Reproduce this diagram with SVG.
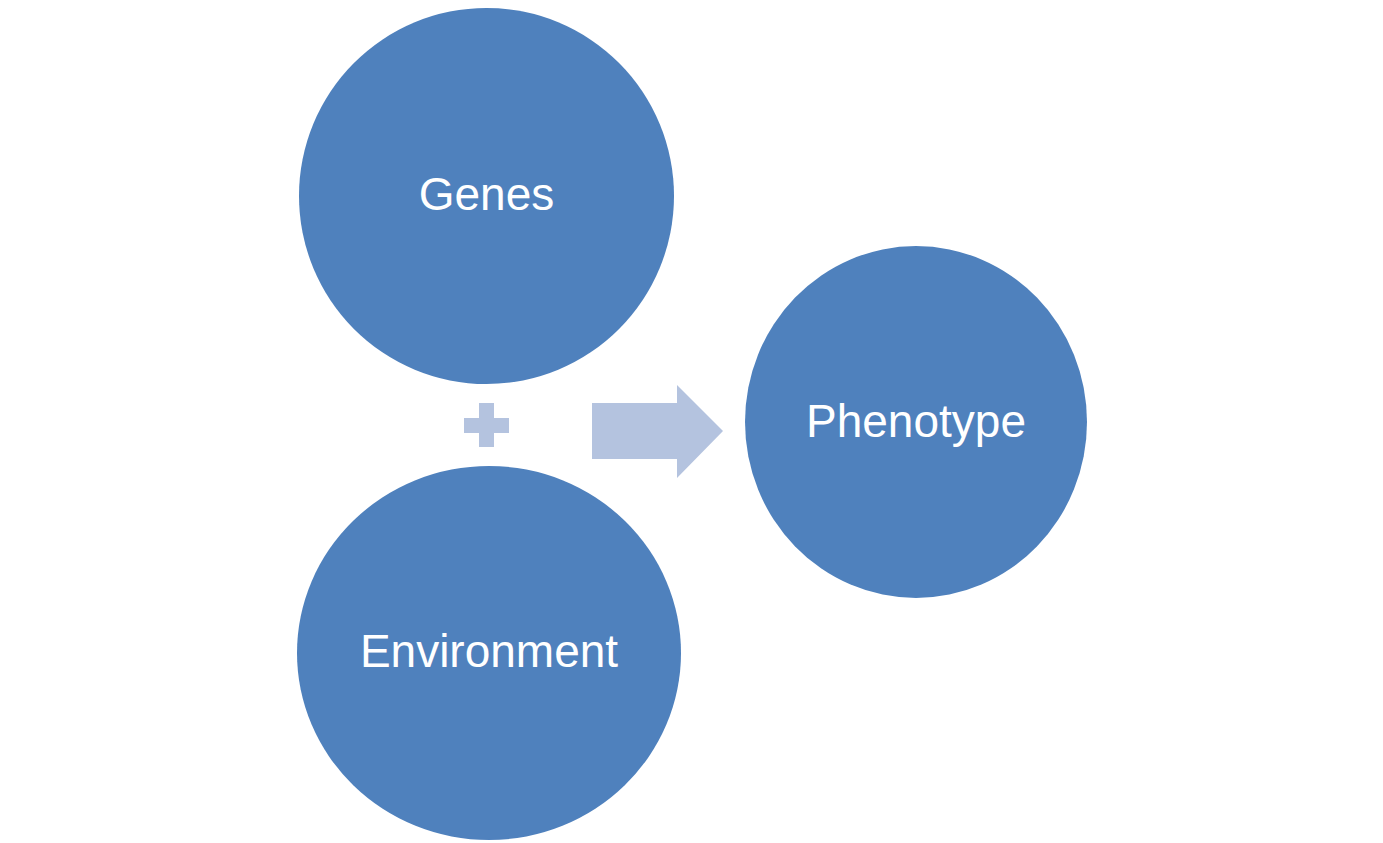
<svg xmlns="http://www.w3.org/2000/svg" width="1383" height="843" viewBox="0 0 1383 843">
<style>
.n{fill:#4F81BD}
.t{fill:#fff;font-family:"Liberation Sans",Arial,sans-serif;font-size:46px;text-anchor:middle;dominant-baseline:central}
.c{fill:#B4C3DF}
</style>
<rect width="1383" height="843" fill="#fff"/>
<g id="genes"><ellipse class="n" cx="486.5" cy="196" rx="187.5" ry="188"/><text class="t" x="486.5" y="194">Genes</text></g>
<g id="environment"><ellipse class="n" cx="489" cy="653" rx="192" ry="187"/><text class="t" x="489" y="651">Environment</text></g>
<g id="phenotype"><ellipse class="n" cx="916" cy="422" rx="171" ry="176"/><text class="t" x="916" y="421">Phenotype</text></g>
<g id="connectors">
<path class="c" d="M479 403H494V418H509V433H494V447H479V433H464V418H479Z"/>
<path class="c" d="M592 403H677V385L723 431L677 478V459H592Z"/>
</g>
</svg>
